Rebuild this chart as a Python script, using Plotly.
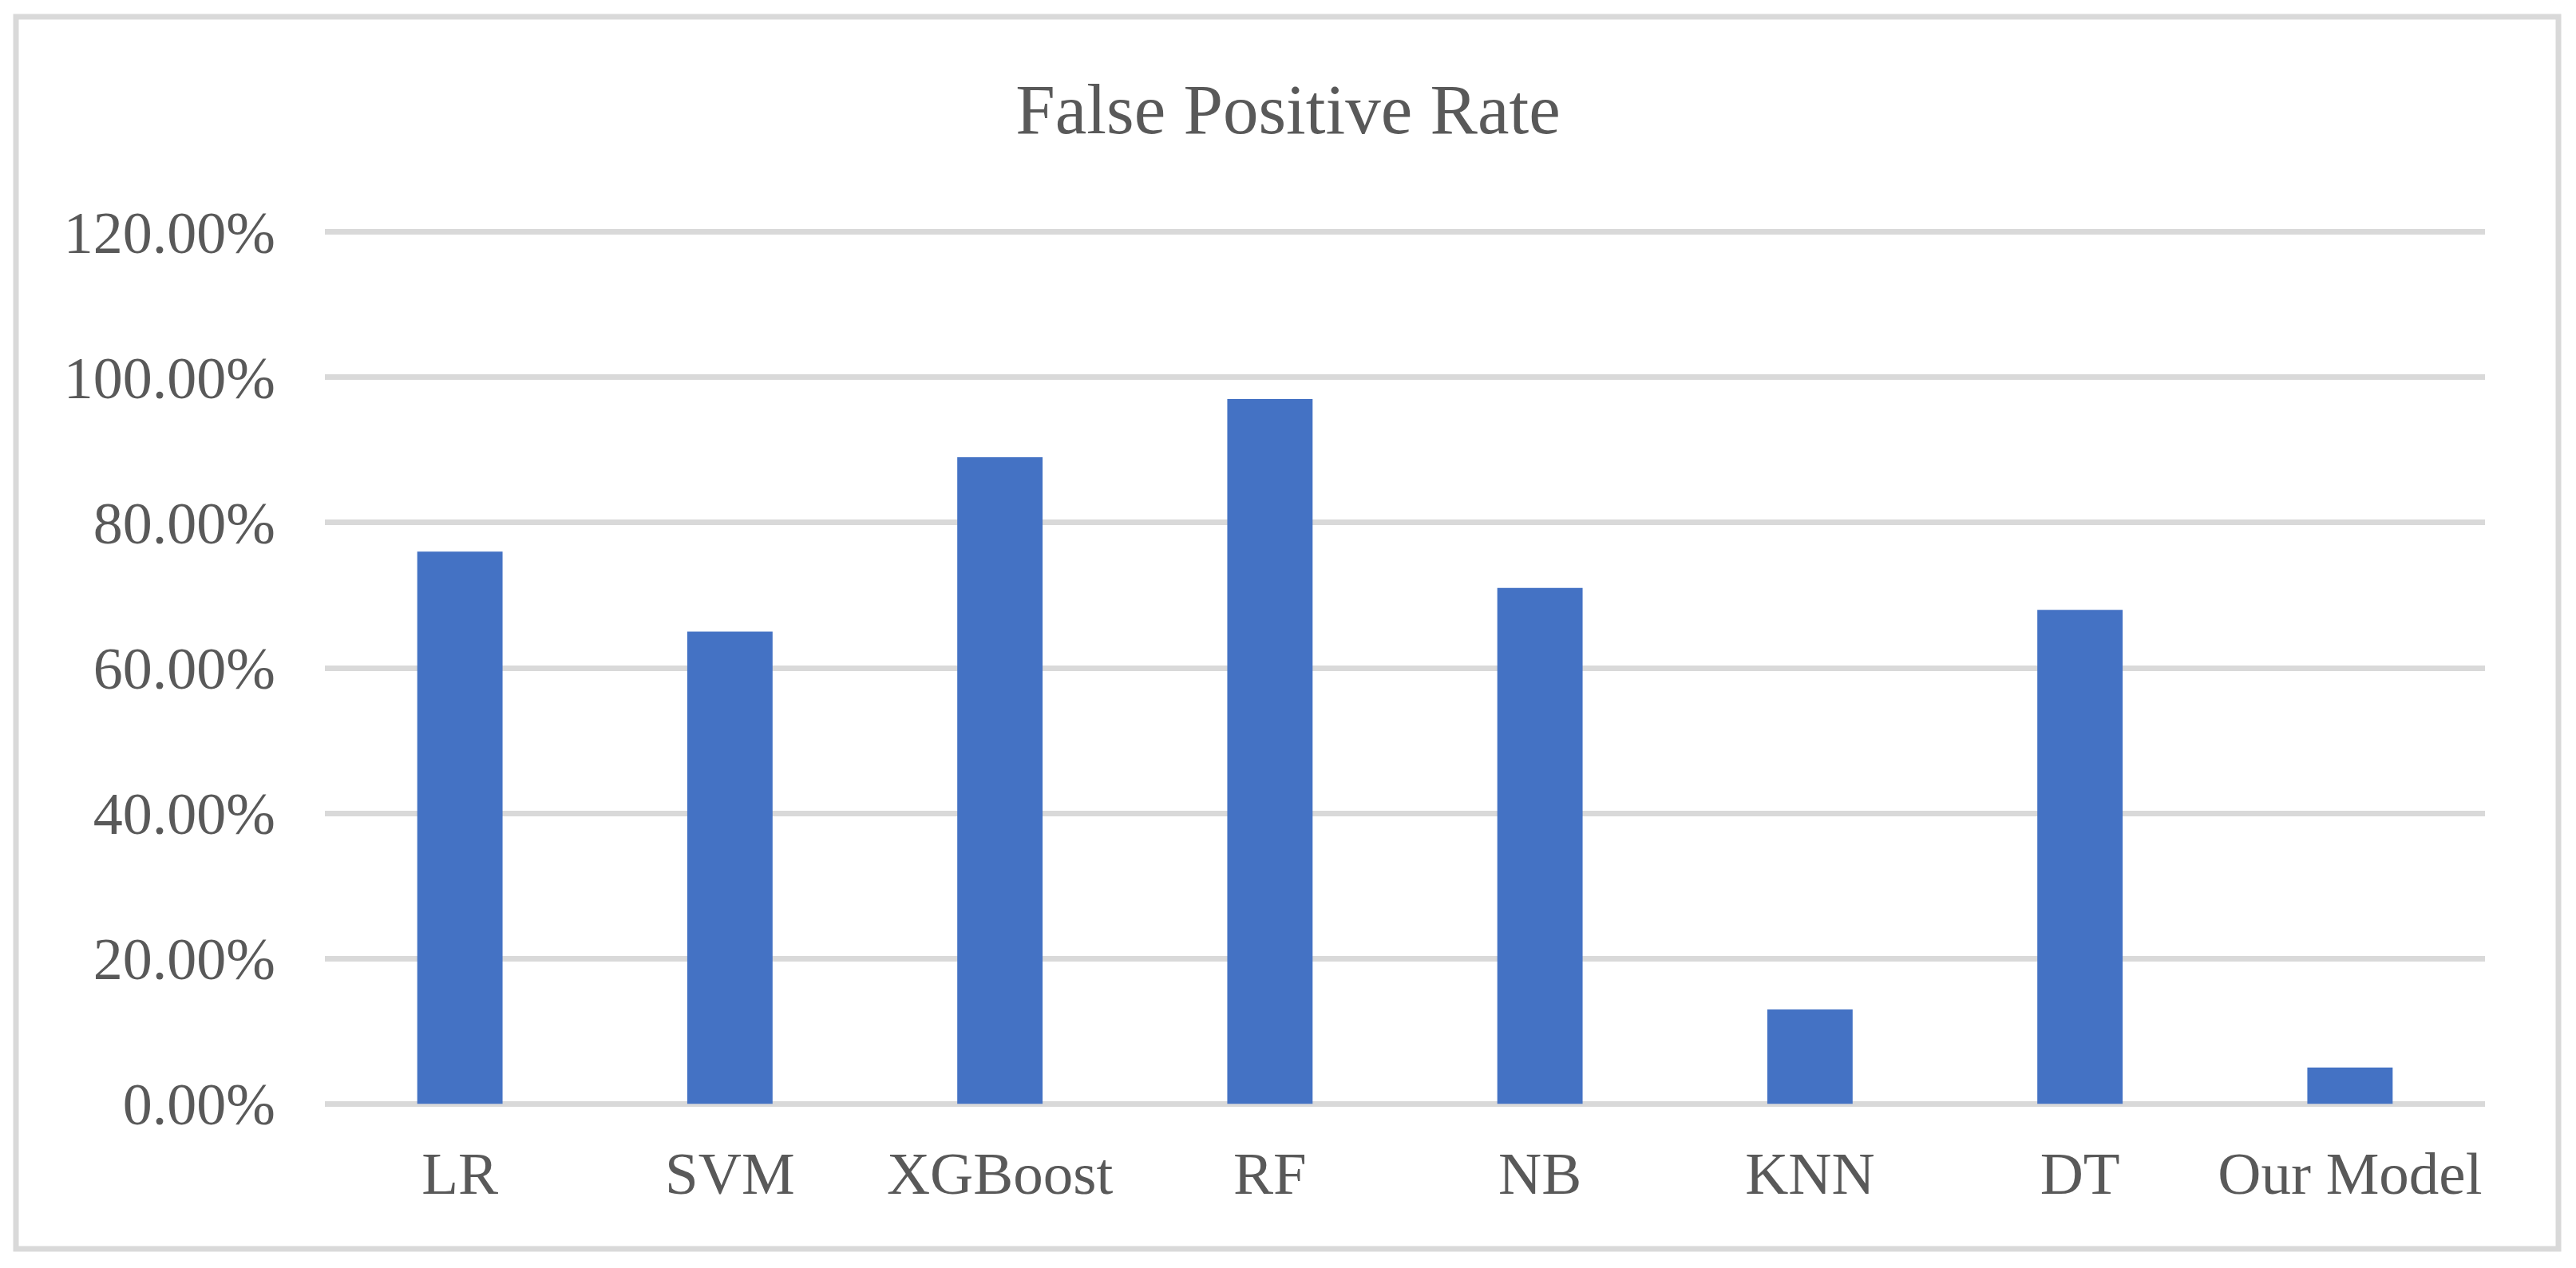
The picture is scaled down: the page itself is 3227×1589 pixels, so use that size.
import plotly.graph_objects as go

categories = ["LR", "SVM", "XGBoost", "RF", "NB", "KNN", "DT", "Our Model"]
fpr_values = [0.76, 0.65, 0.89, 0.97, 0.71, 0.13, 0.68, 0.05]
y_ticks = [0.0, 0.2, 0.4, 0.6, 0.8, 1.0, 1.2]

W, H = 3227, 1589
# plot area: x 407..3113, y(0%)=1383, y(120%)=291
PAD = 0.004  # small range padding so edge gridlines are drawn
ppu = (1383 - 291) / 1.2
L, R = 407, W - 3113
T = int(round(291 - PAD * ppu))
B = int(round(H - 1383 - PAD * ppu))
FONT = "Liberation Serif, Times New Roman, serif"
GREY = "#595959"
LINE = "#d9d9d9"

fig = go.Figure(go.Bar(
    x=categories, y=fpr_values,
    marker=dict(color="#4472c4", line=dict(width=0)),
    width=0.316,
))

pw = W - L - R
ph = H - T - B

def px_x(p):
    return (p - L) / pw

def px_y(p):
    return (H - B - p) / ph

fig.update_layout(
    width=W, height=H,
    margin=dict(l=L, r=R, t=T, b=B),
    paper_bgcolor="white", plot_bgcolor="white",
    showlegend=False,
    title=dict(text="False Positive Rate", x=0.5, xanchor="center",
               y=1 - 136 / H, yanchor="middle", yref="container",
               font=dict(family=FONT, size=89, color=GREY)),
    font=dict(family=FONT, color=GREY),
    xaxis=dict(showline=False, showgrid=False, zeroline=False, ticks="",
               tickfont=dict(family=FONT, size=75, color=GREY),
               ticklabelstandoff=33),
    yaxis=dict(range=[-PAD, 1.2 + PAD], tickvals=y_ticks, tickformat=".2%",
               showgrid=True, gridcolor=LINE, gridwidth=7,
               zeroline=False, showline=False, ticks="",
               tickfont=dict(family=FONT, size=74, color=GREY),
               ticklabelstandoff=61),
    shapes=[dict(type="rect", xref="paper", yref="paper",
                 x0=px_x(20), x1=px_x(3205), y0=px_y(1565), y1=px_y(21),
                 line=dict(color=LINE, width=7), fillcolor="rgba(0,0,0,0)",
                 layer="below")],
)

fig.write_html("out.html", config={"displayModeBar": False},
               post_script="document.body.style.margin='0';document.body.style.overflow='hidden';")
